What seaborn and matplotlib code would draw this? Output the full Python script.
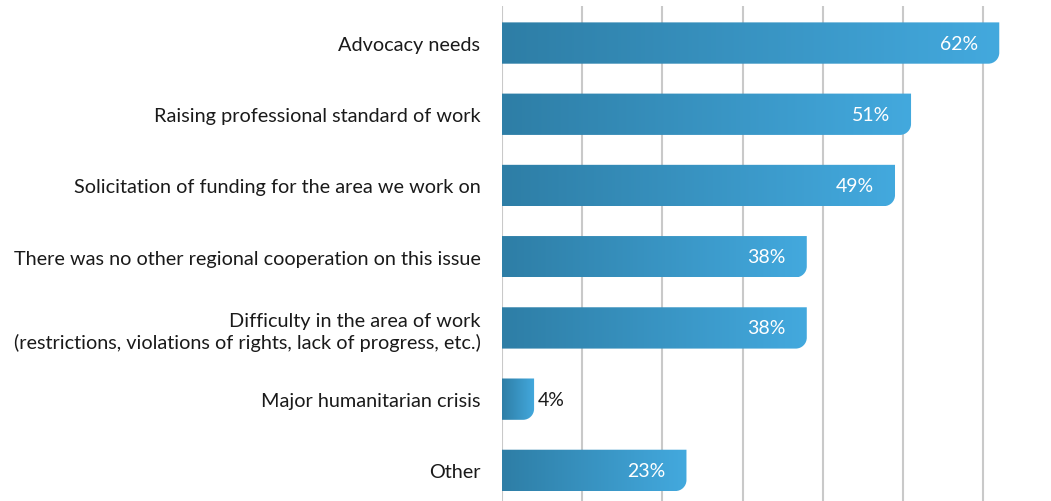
import numpy as np
import matplotlib
matplotlib.use("Agg")
import matplotlib.pyplot as plt
import seaborn as sns
from matplotlib.path import Path
from matplotlib.patches import PathPatch
from matplotlib.colors import LinearSegmentedColormap

# Survey responses (share of respondents, %)
categories = [
    "Advocacy needs",
    "Raising professional standard of work",
    "Solicitation of funding for the area we work on",
    "There was no other regional cooperation on this issue",
    "Difficulty in the area of work\n(restrictions, violations of rights, lack of progress, etc.)",
    "Major humanitarian crisis",
    "Other",
]
values = [62, 51, 49, 38, 38, 4, 23]

sns.set_theme(style="white")
plt.rcParams["font.family"] = ["Lato", "DejaVu Sans"]

W, H = 1051, 502
fig = plt.figure(figsize=(W / 100, H / 100), dpi=100)
ax = fig.add_axes([502 / W, 0, 1 - 502 / W, 495 / H])

sns.barplot(x=values, y=categories, orient="h", width=0.58, ax=ax,
            color="#3a93c8", saturation=1)

XLIM = (0, 68.45)
YLIM = (6.43, -0.52)
ax.set_xlim(*XLIM)
ax.set_ylim(*YLIM)
ax.set_xticks(range(0, 70, 10))
ax.grid(axis="x", color="#c9c9c9", linewidth=1.5)
ax.grid(axis="y", visible=False)
ax.set_axisbelow(True)
for s in ax.spines.values():
    s.set_visible(False)
ax.tick_params(axis="x", length=0, labelbottom=False)
ax.tick_params(axis="y", length=0, pad=15.5, labelsize=14.3, labelcolor="#1a1a1a")
for lbl in ax.get_yticklabels():
    lbl.set_linespacing(1.3)
ax.set_xlabel("")
ax.set_ylabel("")

grad = LinearSegmentedColormap.from_list("bar", ["#2e7ea6", "#43a9de"])
gradient = np.linspace(0, 1, 256).reshape(1, -1)

# corner radius in pixels converted to data units
p0 = ax.transData.transform((0, 0))
p1 = ax.transData.transform((1, 1))
px_x = abs(p1[0] - p0[0])
px_y = abs(p1[1] - p0[1])
radius = 11
k = 0.5523

for patch in list(ax.patches):
    x0, ytop = patch.get_x(), patch.get_y()
    w, h = patch.get_width(), patch.get_height()
    x1, ybot = x0 + w, ytop + h
    rx = min(radius / px_x, w)
    ry = radius / px_y
    verts = [
        (x0, ytop), (x1, ytop), (x1, ybot - ry),
        (x1, ybot - ry + k * ry), (x1 - rx + k * rx, ybot), (x1 - rx, ybot),
        (x0, ybot), (x0, ytop),
    ]
    codes = [Path.MOVETO, Path.LINETO, Path.LINETO,
             Path.CURVE4, Path.CURVE4, Path.CURVE4,
             Path.LINETO, Path.CLOSEPOLY]
    clip = PathPatch(Path(verts, codes), facecolor="none", edgecolor="none",
                     transform=ax.transData)
    ax.add_patch(clip)
    im = ax.imshow(gradient, cmap=grad, aspect="auto",
                   extent=(x0, x1, ybot, ytop), zorder=2, interpolation="bicubic")
    im.set_clip_path(clip)
    patch.set_visible(False)

ax.set_xlim(*XLIM)
ax.set_ylim(*YLIM)

for i, v in enumerate(values):
    if v >= 10:
        ax.annotate(f"{v}%", xy=(v, i), xytext=(-15, 0), textcoords="offset points",
                    ha="right", va="center", color="white", fontsize=14, zorder=5)
    else:
        ax.annotate(f"{v}%", xy=(v, i), xytext=(3, 0), textcoords="offset points",
                    ha="left", va="center", color="#1a1a1a", fontsize=14, zorder=5)

fig.savefig("out.png", dpi=100)
